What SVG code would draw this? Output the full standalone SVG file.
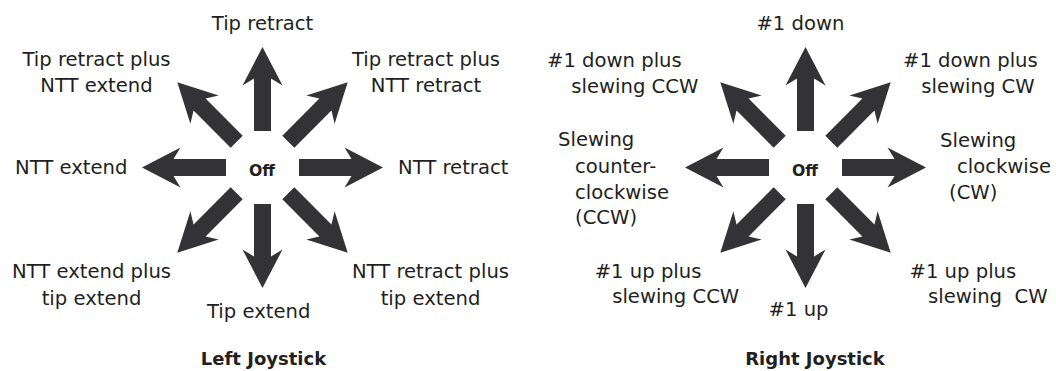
<svg xmlns="http://www.w3.org/2000/svg" width="1056" height="371" viewBox="0 0 1056 371">
<style>
.lbl{font-family:"DejaVu Sans",sans-serif;font-size:19.6px;fill:#231f20;}
.c{text-anchor:middle;}
.off{font-family:"DejaVu Sans",sans-serif;font-weight:bold;font-size:15.7px;fill:#231f20;text-anchor:middle;}
.ttl{font-family:"DejaVu Sans",sans-serif;font-weight:bold;font-size:18px;fill:#231f20;text-anchor:middle;}
.arr{fill:#333335;}
</style>
<defs>
<path id="a" d="M36.5,-8.5 L89,-8.5 L82,-20 L120.5,0 L82,20 L89,8.5 L36.5,8.5 Z"/>
</defs>
<rect width="1056" height="371" fill="#ffffff"/>

<g id="left-joystick">
  <g id="connectors-left" class="arr" transform="translate(262.5,167.5)">
    <use href="#a" transform="rotate(-90)"/>
    <use href="#a" transform="rotate(-45)"/>
    <use href="#a" transform="rotate(0)"/>
    <use href="#a" transform="rotate(45)"/>
    <use href="#a" transform="rotate(90)"/>
    <use href="#a" transform="rotate(135)"/>
    <use href="#a" transform="rotate(180)"/>
    <use href="#a" transform="rotate(-135)"/>
  </g>
  <g id="L-off"><text class="off" x="262" y="176">Off</text></g>
  <g id="L-up"><text class="lbl c" x="262.5" y="29.6">Tip retract</text></g>
  <g id="L-ne"><text class="lbl c" x="426" y="66">Tip retract plus</text><text class="lbl c" x="426" y="92">NTT retract</text></g>
  <g id="L-nw"><text class="lbl c" x="96.5" y="66">Tip retract plus</text><text class="lbl c" x="96.5" y="92">NTT extend</text></g>
  <g id="L-left"><text class="lbl" x="15" y="174">NTT extend</text></g>
  <g id="L-right"><text class="lbl" x="398" y="174">NTT retract</text></g>
  <g id="L-sw"><text class="lbl c" x="91.5" y="277.6">NTT extend plus</text><text class="lbl c" x="91.5" y="304.6">tip extend</text></g>
  <g id="L-down"><text class="lbl c" x="258.7" y="318">Tip extend</text></g>
  <g id="L-se"><text class="lbl c" x="430.5" y="277.6">NTT retract plus</text><text class="lbl c" x="430.5" y="304.6">tip extend</text></g>
  <g id="L-title"><text class="ttl" x="263.5" y="365">Left Joystick</text></g>
</g>

<g id="right-joystick">
  <g id="connectors-right" class="arr" transform="translate(805.5,167.5)">
    <use href="#a" transform="rotate(-90)"/>
    <use href="#a" transform="rotate(-45)"/>
    <use href="#a" transform="rotate(0)"/>
    <use href="#a" transform="rotate(45)"/>
    <use href="#a" transform="rotate(90)"/>
    <use href="#a" transform="rotate(135)"/>
    <use href="#a" transform="rotate(180)"/>
    <use href="#a" transform="rotate(-135)"/>
  </g>
  <g id="R-off"><text class="off" x="805" y="176">Off</text></g>
  <g id="R-up"><text class="lbl c" x="800.4" y="29.6">#1 down</text></g>
  <g id="R-nw"><text class="lbl" x="547" y="67">#1 down plus</text><text class="lbl" x="571.3" y="93">slewing CCW</text></g>
  <g id="R-ne"><text class="lbl" x="903" y="67">#1 down plus</text><text class="lbl" x="921.3" y="93">slewing CW</text></g>
  <g id="R-left"><text class="lbl" x="558" y="146">Slewing</text><text class="lbl" x="575" y="172.5">counter-</text><text class="lbl" x="575" y="198.5">clockwise</text><text class="lbl" x="575" y="224">(CCW)</text></g>
  <g id="R-right"><text class="lbl" x="940" y="146.5">Slewing</text><text class="lbl" x="957" y="173">clockwise</text><text class="lbl" x="949" y="198.5">(CW)</text></g>
  <g id="R-sw"><text class="lbl" x="594.7" y="277.6">#1 up plus</text><text class="lbl" x="612.2" y="303">slewing CCW</text></g>
  <g id="R-down"><text class="lbl c" x="798.5" y="316.4">#1 up</text></g>
  <g id="R-se"><text class="lbl" x="909.5" y="277.6">#1 up plus</text><text class="lbl" x="928" y="303" xml:space="preserve" style="white-space:pre">slewing  CW</text></g>
  <g id="R-title"><text class="ttl" x="815" y="365">Right Joystick</text></g>
</g>
</svg>
